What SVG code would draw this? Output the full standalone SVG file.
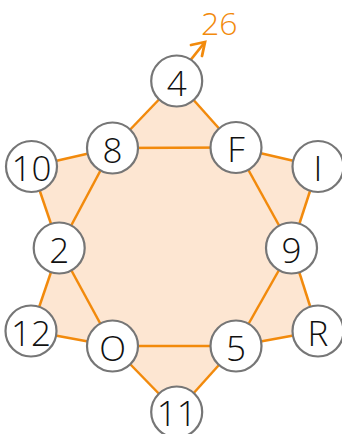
<svg xmlns="http://www.w3.org/2000/svg" width="342" height="434" viewBox="0 0 342 434">
<style>
.edge{stroke:#f28a0c;stroke-width:2.5;fill:none}
.node circle{fill:#fff;stroke:#767676;stroke-width:2.2}
.node text{font-family:"Open Sans","Noto Sans",sans-serif;font-weight:300;font-size:35px;fill:#111;text-anchor:middle;dominant-baseline:central}
.lbl{font-family:"Open Sans","Noto Sans",sans-serif;font-weight:300;font-size:32px;fill:#f28a0c}
</style>
<polygon points="176.7,81 236,147.5 318,166.5 291.5,248 318,331 236,346 176.7,412 112.5,346 31,331 59.2,248 31.5,166.5 112.5,148" fill="#fde6d2"/>
<g id="connectors">
<line class="edge" x1="176.7" y1="81" x2="112.5" y2="148"/>
<line class="edge" x1="176.7" y1="81" x2="236" y2="147.5"/>
<line class="edge" x1="112.5" y1="148" x2="236" y2="147.5"/>
<line class="edge" x1="236" y1="147.5" x2="318" y2="166.5"/>
<line class="edge" x1="236" y1="147.5" x2="291.5" y2="248"/>
<line class="edge" x1="318" y1="166.5" x2="291.5" y2="248"/>
<line class="edge" x1="291.5" y1="248" x2="318" y2="331"/>
<line class="edge" x1="291.5" y1="248" x2="236" y2="346"/>
<line class="edge" x1="318" y1="331" x2="236" y2="346"/>
<line class="edge" x1="236" y1="346" x2="176.7" y2="412"/>
<line class="edge" x1="236" y1="346" x2="112.5" y2="346"/>
<line class="edge" x1="176.7" y1="412" x2="112.5" y2="346"/>
<line class="edge" x1="112.5" y1="346" x2="31" y2="331"/>
<line class="edge" x1="112.5" y1="346" x2="59.2" y2="248"/>
<line class="edge" x1="31" y1="331" x2="59.2" y2="248"/>
<line class="edge" x1="59.2" y1="248" x2="31.5" y2="166.5"/>
<line class="edge" x1="59.2" y1="248" x2="112.5" y2="148"/>
<line class="edge" x1="31.5" y1="166.5" x2="112.5" y2="148"/>
<path d="M189,62 L205,42" stroke="#f28a0c" stroke-width="2.8" fill="none"/>
<path d="M191,45 L205,42 L202,56" stroke="#f28a0c" stroke-width="2.8" fill="none" stroke-linecap="round"/>
</g>
<text class="lbl" x="201" y="35">26</text>
<g id="n4" class="node"><circle cx="176.7" cy="81" r="25.5"/><text x="176.7" y="82">4</text></g>
<g id="nF" class="node"><circle cx="236" cy="147.5" r="25.5"/><text x="236" y="148.5">F</text></g>
<g id="n8" class="node"><circle cx="112.5" cy="148" r="25.5"/><text x="112.5" y="149">8</text></g>
<g id="n10" class="node"><circle cx="31.5" cy="166.5" r="25.5"/><text x="31.5" y="167.5">10</text></g>
<g id="nI" class="node"><circle cx="318" cy="166.5" r="25.5"/><text x="318" y="167.5">I</text></g>
<g id="n2" class="node"><circle cx="59.2" cy="248" r="25.5"/><text x="59.2" y="249">2</text></g>
<g id="n9" class="node"><circle cx="291.5" cy="248" r="25.5"/><text x="291.5" y="249">9</text></g>
<g id="n12" class="node"><circle cx="31" cy="331" r="25.5"/><text x="31" y="332">12</text></g>
<g id="nR" class="node"><circle cx="318" cy="331" r="25.5"/><text x="318" y="332">R</text></g>
<g id="nO" class="node"><circle cx="112.5" cy="346" r="25.5"/><text x="112.5" y="347">O</text></g>
<g id="n5" class="node"><circle cx="236" cy="346" r="25.5"/><text x="236" y="347">5</text></g>
<g id="n11" class="node"><circle cx="176.7" cy="412" r="25.5"/><text x="176.7" y="412">11</text></g>
</svg>
